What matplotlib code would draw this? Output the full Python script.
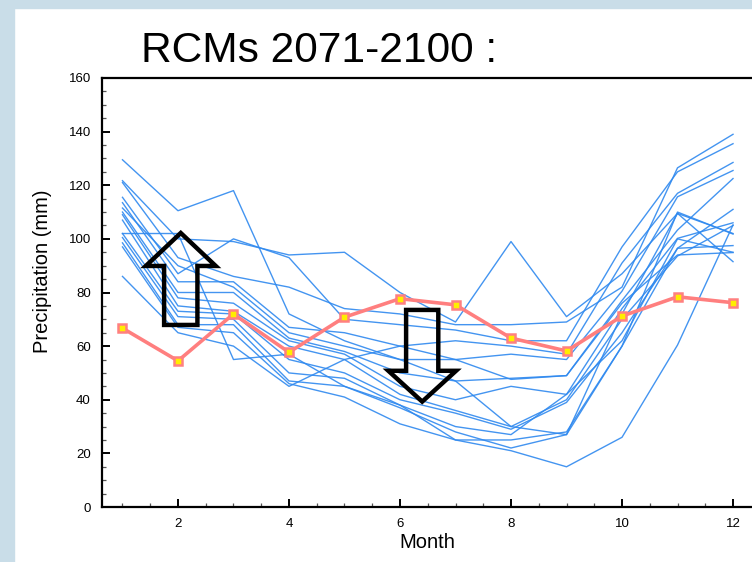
import matplotlib
matplotlib.use("Agg")
import matplotlib.pyplot as plt
from matplotlib.patches import Rectangle, Polygon
from matplotlib.ticker import MultipleLocator

plt.rcParams['font.family'] = ['Liberation Sans', 'DejaVu Sans']

months = list(range(1, 13))

# Regional climate model runs (2071-2100), precipitation in mm
rcm_runs = [
    [129.5, 110.5, 118, 72, 62, 55, 47, 30, 27, 60, 96.5, 111],
    [121.7, 100, 99, 94, 95, 80, 69, 99, 71, 87, 109.5, 102],
    [121, 93, 86, 82, 74, 72, 68, 68, 69, 82, 126.5, 139],
    [115.5, 87, 100, 93, 70, 68, 66, 62, 62, 97, 125, 135.5],
    [113.5, 84, 84, 67, 65, 60, 62, 60, 57, 91, 117, 128.5],
    [111.5, 90, 82, 65, 60, 55, 55, 57, 55, 80.5, 115.7, 125.5],
    [110, 80, 80, 63, 58, 50, 47, 48, 49, 77, 103.3, 122.5],
    [109, 78, 76, 62, 57, 45, 40, 45, 42, 74, 100.2, 106],
    [107, 75, 73, 60, 55, 42, 36, 30, 40, 70, 93.6, 105],
    [102, 73, 72, 55, 50, 40, 35, 29, 39, 65, 96.5, 97.5],
    [100.5, 71, 70, 50, 48, 38, 30, 27, 42, 62, 100, 95],
    [98.5, 68, 68, 47, 45, 37, 28, 22, 27, 72, 109.5, 91.5],
    [97, 67, 65, 46, 41, 31, 25, 21, 15, 26, 60.4, 105.2],
    [86, 65, 60, 45, 55, 60, 55, 47.6, 49, 76, 94, 94.9],
    [102, 102, 55, 57, 45, 38, 25, 25, 28, 60, 110, 101.8],
]

# Observed reference
observed = [66.7, 54.5, 72, 57.7, 70.8, 77.7, 75.4, 63, 58.2, 71.2, 78.4, 76.2]

title = "RCMs 2071-2100 :"
xlabel = "Month"
ylabel = "Precipitation (mm)"

fig = plt.figure(figsize=(7.52, 5.62), dpi=100)
fig.patch.set_facecolor("white")
W, H = 752, 562
bg = "#c9dde8"
fig.patches.append(Rectangle((0, 0), 14 / W, 1, transform=fig.transFigure, color=bg, zorder=0))
fig.patches.append(Rectangle((0, 1 - 8 / H), 1, 8 / H, transform=fig.transFigure, color=bg, zorder=0))

ax = fig.add_axes([102 / W, 55 / H, 650 / W, 429 / H])
ax.set_facecolor("none")

for run in rcm_runs:
    ax.plot(months, run, color="#2f89ef", lw=1.0, alpha=0.9, zorder=2)

ax.plot(months, observed, color="#ff7f7f", lw=2.6, marker="s", markersize=6,
        markerfacecolor="#ffee00", markeredgecolor="#ff8080", markeredgewidth=1.8, zorder=3)

ax.set_xlim(0.631, 12.342)
ax.set_ylim(0, 160)
ax.xaxis.set_major_locator(MultipleLocator(2))
ax.xaxis.set_minor_locator(MultipleLocator(0.5))
ax.yaxis.set_major_locator(MultipleLocator(20))
ax.yaxis.set_minor_locator(MultipleLocator(5))
ax.tick_params(which="both", direction="in", top=False, right=False, labelsize=9.5, color="black")
ax.tick_params(which="major", length=6, width=1.4)
ax.tick_params(which="minor", length=3, width=0.9, color="#555555")
ax.tick_params(axis="y", pad=8)
ax.tick_params(axis="x", pad=8)
for side in ["left", "bottom", "top"]:
    ax.spines[side].set_linewidth(1.6)
ax.spines["right"].set_visible(False)

ax.set_xlabel(xlabel, fontsize=14.5, labelpad=2)
ax.set_ylabel(ylabel, fontsize=14.5, labelpad=10)
ax.yaxis.set_label_coords(-50 / 650, (507 - 271) / 429)

# hollow arrows (annotations)
def hollow_arrow(xc, y_tail, y_tip, shaft_half, head_half, head_len):
    d = 1 if y_tip > y_tail else -1
    yb = y_tip - d * head_len
    pts = [(xc - shaft_half, y_tail), (xc - shaft_half, yb), (xc - head_half, yb),
           (xc, y_tip), (xc + head_half, yb), (xc + shaft_half, yb), (xc + shaft_half, y_tail)]
    ax.add_patch(Polygon(pts, closed=True, fill=False, edgecolor="black", lw=3.2,
                         joinstyle="miter", zorder=4))

hollow_arrow(2.05, 67.9, 102.2, 0.30, 0.63, 12.3)
hollow_arrow(6.40, 73.5, 39.3, 0.29, 0.61, 11.5)

fig.text(141 / W, 1 - 62 / H, title, fontsize=30.6,
         ha="left", va="baseline")

fig.savefig("out.png", dpi=100)
